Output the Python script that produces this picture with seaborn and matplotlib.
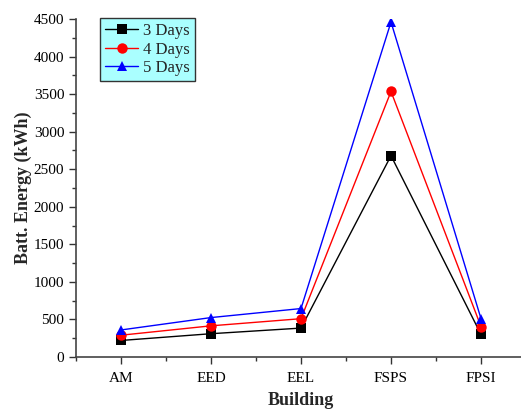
import numpy as np
import pandas as pd
import matplotlib
matplotlib.use('Agg')
import matplotlib.pyplot as plt
import seaborn as sns
from matplotlib.ticker import MultipleLocator

buildings = ['AM', 'EED', 'EEL', 'FSPS', 'FPSI']
days_3 = [220, 310, 385, 2680, 300]
days_4 = [290, 415, 510, 3535, 405]
days_5 = [360, 525, 645, 4460, 510]
series_names = ['3 Days', '4 Days', '5 Days']

df = pd.DataFrame({
    'Building': buildings * 3,
    'Energy': days_3 + days_4 + days_5,
    'Series': [s for s in series_names for _ in buildings],
})
df['x'] = df['Building'].map({b: i for i, b in enumerate(buildings)})

sns.set_theme(style='ticks')
plt.rcParams['font.family'] = ['Liberation Serif', 'DejaVu Serif']
plt.rcParams['xtick.direction'] = 'out'
plt.rcParams['ytick.direction'] = 'out'

fig = plt.figure(figsize=(5.21, 4.12), dpi=100)
ax = fig.add_axes([0.1459, 0.1335, 0.8637, 0.8204])

palette = {'3 Days': 'black', '4 Days': 'red', '5 Days': 'blue'}
markers = {'3 Days': 's', '4 Days': 'o', '5 Days': '^'}
sns.lineplot(data=df, x='x', y='Energy', hue='Series', style='Series',
             palette=palette, markers=markers, dashes=False, markersize=7.5,
             markeredgewidth=0, linewidth=1, ax=ax)

ax.set_xlim(-0.5, 4.5)
ax.set_ylim(0, 4500)
ax.set_xticks(range(len(buildings)))
ax.set_xticklabels(buildings)
ax.xaxis.set_minor_locator(MultipleLocator(0.5))
ax.yaxis.set_major_locator(MultipleLocator(500))
ax.yaxis.set_minor_locator(MultipleLocator(250))
ax.tick_params(axis='both', which='major', length=5, width=1, labelsize=11, colors='#333333', labelcolor='black')
ax.tick_params(axis='x', which='major', pad=6)
ax.tick_params(axis='both', which='minor', length=3, width=1, colors='#333333')

ax.set_xlabel('Building', fontsize=13, fontweight='bold', labelpad=5)
ax.set_ylabel('Batt. Energy (kWh)', fontsize=13, fontweight='bold', labelpad=1)

for side in ['top', 'right']:
    ax.spines[side].set_visible(False)
for side in ['left', 'bottom']:
    ax.spines[side].set_color('#444444')
    ax.spines[side].set_linewidth(1.2)

leg = ax.legend(loc='upper left', bbox_to_anchor=(0.053, 1.002), fontsize=12,
                handlelength=2.0, handletextpad=0.3, borderpad=0.3,
                borderaxespad=0, labelspacing=0.15, fancybox=False, framealpha=1)
leg.set_title(None)
leg.get_frame().set_facecolor('#aaffff')
leg.get_frame().set_edgecolor('#333333')
leg.get_frame().set_linewidth(1)

fig.savefig('out.png', dpi=100)
